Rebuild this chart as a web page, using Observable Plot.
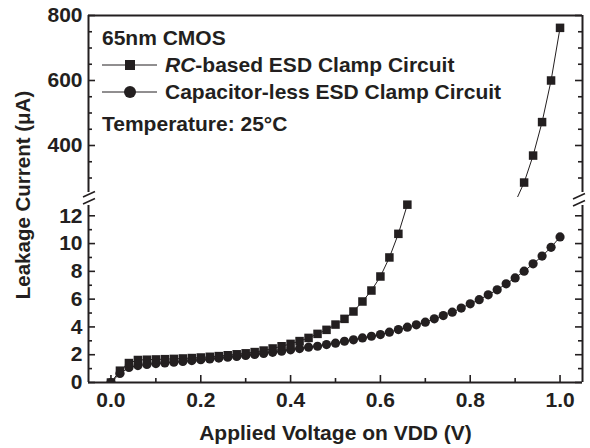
<!DOCTYPE html>
<html><head><meta charset="utf-8">
<script src="https://cdn.jsdelivr.net/npm/d3@7"></script>
<script src="https://cdn.jsdelivr.net/npm/@observablehq/plot@0.6"></script>
<style>
html,body{margin:0;padding:0;background:#fff;}
#chart{position:relative;width:590px;height:448px;overflow:hidden;background:#fff;}
#chart svg{position:absolute;left:0;}
</style></head><body><div id="chart"></div>
<script>
// ---------- data ----------
const volts = [0.00,0.02,0.04,0.06,0.08,0.10,0.12,0.14,0.16,0.18,0.20,0.22,0.24,0.26,0.28,0.30,0.32,0.34,0.36,0.38,0.40,0.42,0.44,0.46,0.48,0.50,0.52,0.54,0.56,0.58,0.60,0.62,0.64,0.66,0.68,0.70,0.72,0.74,0.76,0.78,0.80,0.82,0.84,0.86,0.88,0.90,0.92,0.94,0.96,0.98,1.00];
// Capacitor-less ESD clamp (µA), one value per volts entry
const capCurrent = [0.0,0.65,1.08,1.22,1.30,1.36,1.41,1.46,1.52,1.58,1.64,1.70,1.76,1.82,1.88,1.95,2.02,2.09,2.17,2.25,2.35,2.44,2.54,2.61,2.73,2.83,2.97,3.07,3.21,3.33,3.45,3.62,3.81,3.98,4.15,4.34,4.58,4.82,5.06,5.36,5.66,5.96,6.31,6.67,7.10,7.53,8.01,8.54,9.10,9.73,10.48];
// RC-based ESD clamp (µA), lower range: volts 0.00 ... 0.66
const rcLowCurrent = [0.0,0.85,1.40,1.62,1.64,1.66,1.68,1.70,1.73,1.76,1.80,1.85,1.90,1.96,2.03,2.10,2.19,2.30,2.45,2.61,2.78,2.98,3.21,3.50,3.79,4.17,4.58,5.11,5.83,6.62,7.63,9.00,10.70,12.80];
// RC-based ESD clamp (µA), upper range
const rcHighVolts = [0.90,0.92,0.94,0.96,0.98,1.00];
const rcHighCurrent = [225,286,369,472,600,762];

// tick values
const xMajor = [0,0.2,0.4,0.6,0.8,1.0];
const xMinor = [0.1,0.3,0.5,0.7,0.9];
const yLowMajor = [0,2,4,6,8,10,12];
const yLowMinor = [1,3,5,7,9,11];
const yHighMajor = [400,600,800];
const yHighMinor = [300,350,450,500,550,650,700,750];

// ---------- tables ----------
const capData = volts.map((v,i)=>({v, c: capCurrent[i]}));
const rcLow = rcLowCurrent.map((c,i)=>({v: volts[i], c}));
const rcHigh = rcHighVolts.map((v,i)=>({v, c: rcHighCurrent[i]}));

const ink = "#231f20";
const W = 590, ML = 88, MR = 8;
const FW = W - ML - MR;
const xDomain = [-0.05, 1.05];
const font = "'Liberation Sans', Arial, sans-serif";
const FS = 21;
const baseStyle = {background:"transparent", fontFamily: font, fontSize: FS + "px", fontWeight:"bold", color: ink, overflow:"visible"};

function frameTicks(major, minor) {
  return [
    Plot.tickY(major, {y: d=>d, stroke: ink, strokeWidth: 1.6, insetRight: FW-7}),
    Plot.tickY(minor, {y: d=>d, stroke: ink, strokeWidth: 1.6, insetRight: FW-4}),
    Plot.tickY(major, {y: d=>d, stroke: ink, strokeWidth: 1.6, insetLeft: FW-7}),
    Plot.tickY(minor, {y: d=>d, stroke: ink, strokeWidth: 1.6, insetLeft: FW-4})
  ];
}

// ---------- upper panel ----------
const upperH = 200, upperMT = 15, upperMB = 3;
const upperPlot = Plot.plot({
  width: W, height: upperH,
  marginLeft: ML, marginRight: MR, marginTop: upperMT, marginBottom: upperMB,
  style: baseStyle,
  x: {domain: xDomain, axis: null},
  y: {domain: [240, 800]},
  marks: [
    ...frameTicks(yHighMajor, yHighMinor),
    Plot.ruleX([xDomain[0], xDomain[1]], {stroke: ink, strokeWidth: 2}),
    Plot.ruleY([800], {stroke: ink, strokeWidth: 2}),
    Plot.axisY({ticks: yHighMajor, tickSize: 0, tickPadding: 6, label: null, fontSize: FS, fontWeight: "bold"}),
    Plot.line(rcHigh, {x: "v", y: "c", stroke: ink, strokeWidth: 1, clip: true}),
    Plot.dot(rcHigh, {x: "v", y: "c", symbol: "square", r: 4.8, fill: ink, stroke: "none", clip: true})
  ]
});
upperPlot.style.top = "0px";

// ---------- lower panel ----------
const lowTop = 200, lowH = 248, lowMB = 66;
const lowFH = lowH - lowMB;
const lowerPlot = Plot.plot({
  width: W, height: lowH,
  marginLeft: ML, marginRight: MR, marginTop: 0, marginBottom: lowMB,
  style: baseStyle,
  x: {domain: xDomain},
  y: {domain: [0, 13.1]},
  marks: [
    ...frameTicks(yLowMajor, yLowMinor),
    Plot.tickX(xMajor, {x: d=>d, stroke: ink, strokeWidth: 1.6, insetTop: lowFH-7}),
    Plot.tickX(xMinor, {x: d=>d, stroke: ink, strokeWidth: 1.6, insetTop: lowFH-4}),
    Plot.ruleX([xDomain[0], xDomain[1]], {stroke: ink, strokeWidth: 2}),
    Plot.ruleY([0], {stroke: ink, strokeWidth: 2}),
    Plot.axisY({ticks: yLowMajor, tickSize: 0, tickPadding: 6, label: null, fontSize: FS, fontWeight: "bold"}),
    Plot.axisX({ticks: xMajor, tickFormat: d3.format(".1f"), tickSize: 0, tickPadding: 10,
      label: "Applied Voltage on VDD (V)", labelAnchor: "center", labelArrow: "none", labelOffset: 57, fontSize: FS, fontWeight: "bold"}),
    Plot.line(capData, {x: "v", y: "c", stroke: ink, strokeWidth: 1, clip: true}),
    Plot.line(rcLow, {x: "v", y: "c", stroke: ink, strokeWidth: 1, clip: true}),
    Plot.dot(capData, {x: "v", y: "c", symbol: "circle", r: 4.6, fill: ink, stroke: "none", clip: true}),
    Plot.dot(rcLow, {x: "v", y: "c", symbol: "square", r: 4.8, fill: ink, stroke: "none", clip: true})
  ]
});
lowerPlot.style.top = lowTop + "px";

const chart = document.getElementById("chart");
chart.append(upperPlot, lowerPlot);

// ---------- overlay: axis break, y title, legend ----------
const ov = d3.create("svg").attr("width", W).attr("height", 448)
  .style("top","0px").style("font-family", font).style("font-weight","bold").attr("fill", ink);
const axisXs = [ML, W - MR];
axisXs.forEach((ax, k) => {
  ov.append("rect").attr("x", ax-5).attr("y", 192).attr("width", 10).attr("height", 13).attr("fill", "#fff");
  const sx = k === 0 ? -5 : -9;
  [[197,191.5],[204,198.5]].forEach(([y1,y2]) => {
    ov.append("line").attr("x1", ax+sx).attr("y1", y1 + (k?2:0)).attr("x2", ax+sx+12).attr("y2", y2 + (k?2:0))
      .attr("stroke", ink).attr("stroke-width", 1.6);
  });
});
ov.append("text").attr("transform", "translate(30,195) rotate(-90)").attr("text-anchor","middle")
  .attr("font-size", 20.5).text("Leakage Current (μA)");

const lg = ov.append("g").attr("font-size", 21);
lg.append("text").attr("x", 102).attr("y", 45).text("65nm CMOS");
lg.append("line").attr("x1",102).attr("x2",157).attr("y1",65).attr("y2",65).attr("stroke",ink).attr("stroke-width",1);
lg.append("rect").attr("x",125).attr("y",60).attr("width",10).attr("height",10).attr("fill",ink);
const t1 = lg.append("text").attr("x",165).attr("y",72);
t1.append("tspan").attr("font-style","italic").text("RC");
t1.append("tspan").text("-based ESD Clamp Circuit");
lg.append("line").attr("x1",102).attr("x2",157).attr("y1",92).attr("y2",92).attr("stroke",ink).attr("stroke-width",1);
lg.append("circle").attr("cx",130).attr("cy",92).attr("r",6).attr("fill",ink);
lg.append("text").attr("x",165).attr("y",99).text("Capacitor-less ESD Clamp Circuit");
lg.append("text").attr("x",102).attr("y",131).text("Temperature: 25°C");

chart.append(ov.node());
</script></body></html>
